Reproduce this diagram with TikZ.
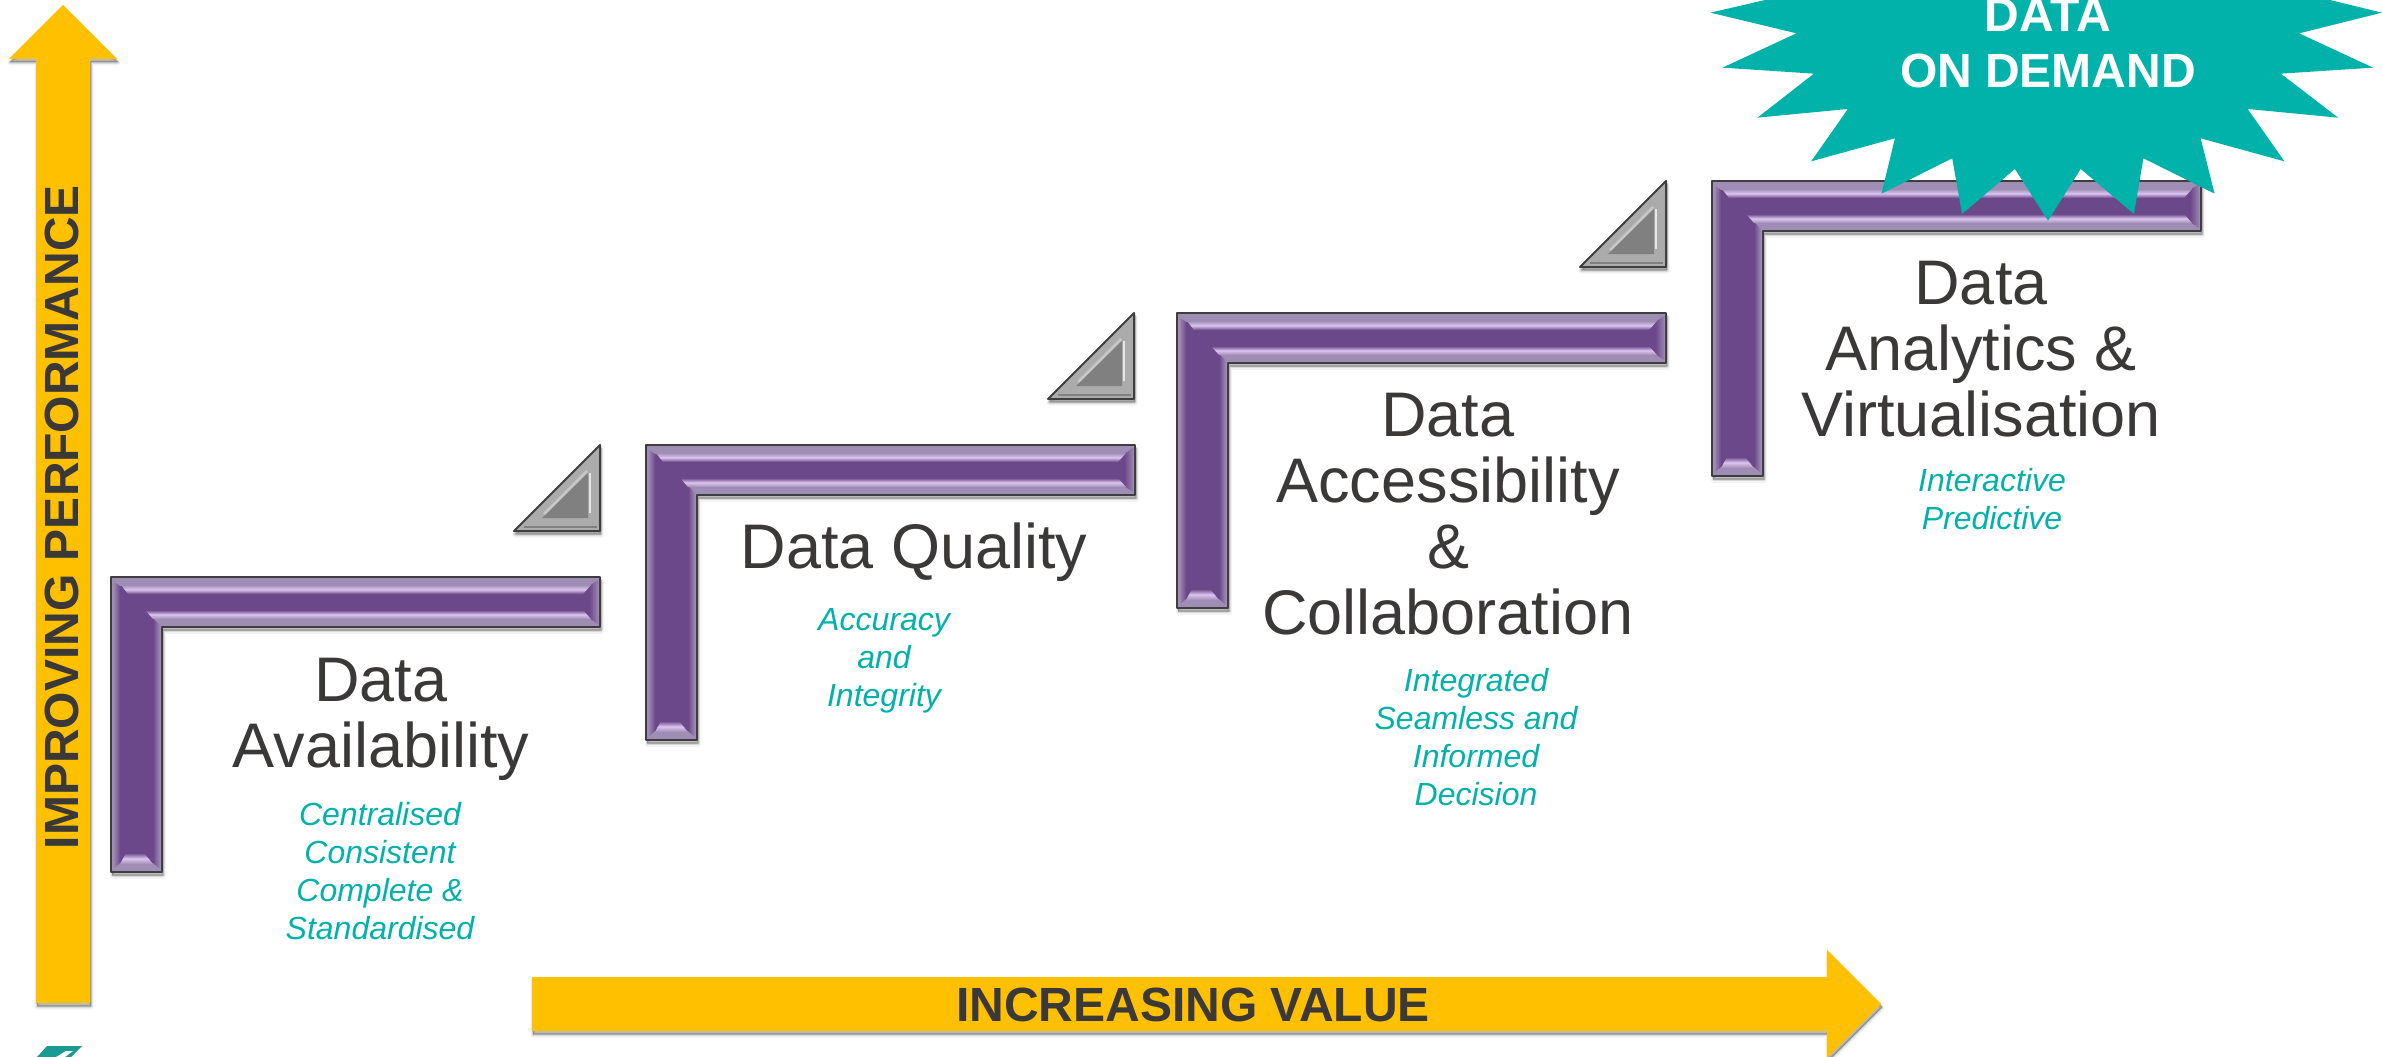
\documentclass[tikz,border=0pt]{standalone}
\usepackage{fontspec}
\setmainfont{Liberation Sans}
\definecolor{amber}{HTML}{FFC000}
\definecolor{teal}{HTML}{00B2A9}
\definecolor{ink}{HTML}{3B3838}
\definecolor{purp}{HTML}{6B4889}
\definecolor{purpband}{HTML}{A08DB5}
\definecolor{purphi}{HTML}{DCC5F0}
\definecolor{edge}{HTML}{3E3E3E}
\newcommand{\softshadow}[1]{%
  \fill[black,opacity=.05,draw=black,line width=5pt,line join=round,shift={(1pt,-4pt)}] #1;
  \fill[black,opacity=.09,draw=black,line width=3pt,line join=round,shift={(1pt,-3.5pt)}] #1;
  \fill[black,opacity=.14,draw=black,line width=1pt,line join=round,shift={(1pt,-3pt)}] #1;
}
\newcommand{\stepshape}[2]{%
  \begin{scope}[shift={(#1,#2)}]
    \softshadow{(0,0)--(489,0)--(489,50)--(51,50)--(51,295)--(0,295)--cycle}
    \fill[purpband] (0,0)--(489,0)--(489,50)--(51,50)--(51,295)--(0,295)--cycle;
    % flat interior
    \fill[purp] (8,9)--(481,9)--(481,41)--(43,41)--(43,286)--(8,286)--cycle;
    % soft side bands
    \shade[left color=purpband,right color=purp] (2,4)--(9,9)--(9,286)--(2,292)--cycle;
    \shade[left color=purp,right color=purpband] (42,41)--(49,48)--(49,292)--(42,286)--cycle;
    \shade[left color=purp,right color=purpband!85!purp] (478,9)--(487,3)--(487,47)--(478,41)--cycle;
    % bevel strips
    \shade[top color=purpband,bottom color=purp,middle color=purphi] (10,8)--(480,8)--(472,17)--(17,17)--cycle;
    \shade[top color=purp,bottom color=purpband,middle color=purphi] (34,33)--(472,33)--(480,42)--(42,42)--cycle;
    \shade[top color=purp,bottom color=purpband,middle color=purphi] (15,276)--(33,276)--(42,287)--(9,287)--cycle;
    \draw[edge,line width=2.6pt,line join=round] (0,0)--(489,0)--(489,50)--(51,50)--(51,295)--(0,295)--cycle;
  \end{scope}}
\newcommand{\wedgeshape}[2]{%
  \begin{scope}[shift={(#1,#2)}]
    \softshadow{(86,0)--(86,86)--(0,86)--cycle}
    \fill[black!33] (86,0)--(86,86)--(0,86)--cycle;
    \fill[black!50] (74,28)--(74,73)--(28,73)--cycle;
    \draw[black!10,line width=2pt] (75.5,28)--(75.5,68);
    \draw[black!22,line width=2.5pt] (73,26)--(30,69);
    \draw[black!50,line width=1.5pt] (10,82)--(83,82);
    \draw[edge,line width=2pt,line join=round] (86,0)--(86,86)--(0,86)--cycle;
  \end{scope}}
\tikzset{
  stepname/.style={align=center,text=ink,font=\fontsize{63}{66}\selectfont,inner sep=0pt},
  stepnote/.style={align=center,text=teal,font=\fontsize{32}{38}\selectfont\itshape,inner sep=0pt},
  banner/.style={text=ink,font=\fontsize{48}{56}\selectfont\bfseries,inner sep=0pt}
}
\begin{document}
\begin{tikzpicture}[x=1pt,y=-1pt]
\useasboundingbox (0,0) rectangle (2382,1057);
\fill[white] (0,0) rectangle (2382,1057);
% up arrow
\softshadow{(63,5)--(117,59)--(90,59)--(90,1003)--(36,1003)--(36,59)--(9,59)--cycle}
\fill[amber] (63,5)--(117,59)--(90,59)--(90,1003)--(36,1003)--(36,59)--(9,59)--cycle;
\node[banner,rotate=90] (perf) at (62,517) {IMPROVING PERFORMANCE};
% right arrow
\begin{scope}
\clip (0,0) rectangle (2382,1057);
\softshadow{(532,977)--(1827,977)--(1827,950)--(1881,1004)--(1827,1058)--(1827,1031)--(532,1031)--cycle}
\fill[amber] (532,977)--(1827,977)--(1827,950)--(1881,1004)--(1827,1058)--(1827,1031)--(532,1031)--cycle;
\end{scope}
\node[banner] (value) at (1193,1005) {INCREASING VALUE};
% logo fragment
\fill[teal!80!black!90] (47,1046)--(82,1046)--(71,1057)--(37,1057)--cycle;
\fill[white] (56,1057)--(66,1051)--(73,1051)--(65,1057)--cycle;
% steps
\stepshape{111}{577}
\stepshape{646}{445}
\stepshape{1177}{313}
\stepshape{1712}{181}
\wedgeshape{514}{445}
\wedgeshape{1048}{313}
\wedgeshape{1580}{181}
% labels
\node[stepname] (n1) at (381,719) {Data\\Availability};
\node[stepnote] (s1) at (380,871) {Centralised\\Consistent\\Complete \&\\Standardised};
\node[stepname] (n2) at (914,552) {Data Quality};
\node[stepnote] (s2) at (884,661) {Accuracy\\and\\Integrity};
\node[stepname] (n3) at (1448,514) {Data\\Accessibility\\\&\\Collaboration};
\node[stepnote] (s3) at (1476,737) {Integrated\\Seamless and\\Informed\\Decision};
\node[stepname] (n4) at (1981,349) {Data\\Analytics \&\\Virtualisation};
\node[stepnote] (s4) at (1992,499) {Interactive\\Predictive};
% burst
\begin{scope}[shift={(1680,0)},x=0.4477pt,y=-0.3333pt]
\fill[teal] (190,0)--(68,38)--(260,100)--(95,203)--(299,221)--(173,353)--(375,327)--(293,484)--(480,415)--(450,581)--(608,475)--(630,642)--(748,507)--(822,662)--(895,507)--(1014,642)--(1035,475)--(1194,581)--(1163,415)--(1350,484)--(1268,327)--(1470,353)--(1342,221)--(1548,203)--(1383,100)--(1568,38)--(1452,0)--cycle;
\end{scope}
\node[align=center,text=white,font=\fontsize{48}{56}\selectfont\bfseries,inner sep=0pt] (burst) at (2048,43) {DATA\\ON DEMAND};
\end{tikzpicture}
\end{document}
